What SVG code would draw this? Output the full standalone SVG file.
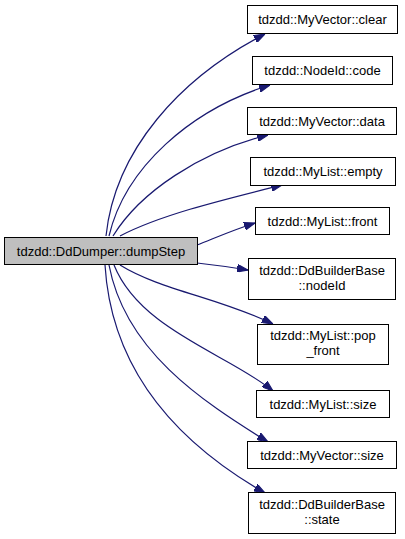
<svg xmlns="http://www.w3.org/2000/svg" width="405" height="539" viewBox="0 0 405 539">
<style>
.n rect{fill:#ffffff;stroke:#000000;stroke-width:1}
.m rect{fill:#bfbfbf;stroke:#000000;stroke-width:1}
text{font-family:"Liberation Sans",Arial,sans-serif;font-size:13px;fill:#000000;text-anchor:middle}
.e path{fill:none;stroke:#191970;stroke-width:1.2;marker-end:url(#arr)}
</style>
<defs>
<marker id="arr" viewBox="0 0 10 7" refX="10" refY="3.5" markerWidth="11" markerHeight="8" markerUnits="userSpaceOnUse" orient="auto">
<path d="M0,0 L10,3.5 L0,7 z" fill="#191970" stroke="#191970"/>
</marker>
</defs>
<rect width="405" height="539" fill="#ffffff"/>
<g id="edges" class="e">
<path d="M106,236 C115,150 180,78 265,34"/>
<path d="M109,236 C125,168 190,110 270,85"/>
<path d="M113,236 C140,192 200,152 268,135"/>
<path d="M120,236 C160,215 222,200 282,185"/>
<path d="M197,245 C215,238 233,230 255,223"/>
<path d="M197,263 C215,265 230,267 248,270"/>
<path d="M120,265 C160,290 220,298 273,324"/>
<path d="M114,265 C140,330 230,355 273,391"/>
<path d="M109,265 C125,350 200,400 268,442"/>
<path d="M105,265 C112,380 190,450 265,493"/>
</g>
<g id="dumpStep" class="m"><rect x="4.5" y="237.5" width="193" height="27"/><text x="101" y="255.5">tdzdd::DdDumper::dumpStep</text></g>
<g id="clear" class="n"><rect x="247.5" y="5.5" width="150" height="28"/><text x="322.5" y="24">tdzdd::MyVector::clear</text></g>
<g id="code" class="n"><rect x="252.5" y="56.5" width="140" height="28"/><text x="322.5" y="75">tdzdd::NodeId::code</text></g>
<g id="data" class="n"><rect x="247.5" y="107.5" width="149" height="27"/><text x="322" y="125.5">tdzdd::MyVector::data</text></g>
<g id="empty" class="n"><rect x="250.5" y="157.5" width="145" height="28"/><text x="323" y="176">tdzdd::MyList::empty</text></g>
<g id="front" class="n"><rect x="255.5" y="207.5" width="134" height="27"/><text x="322.5" y="225.5">tdzdd::MyList::front</text></g>
<g id="nodeId" class="n"><rect x="248.5" y="258.5" width="147" height="41"/><text x="322" y="275">tdzdd::DdBuilderBase</text><text x="322" y="290">::nodeId</text></g>
<g id="pop_front" class="n"><rect x="257.5" y="324.5" width="131" height="40"/><text x="323" y="340">tdzdd::MyList::pop</text><text x="323" y="355">_front</text></g>
<g id="listsize" class="n"><rect x="256.5" y="390.5" width="133" height="27"/><text x="323" y="408.5">tdzdd::MyList::size</text></g>
<g id="vecsize" class="n"><rect x="247.5" y="441.5" width="149" height="27"/><text x="322" y="459.5">tdzdd::MyVector::size</text></g>
<g id="state" class="n"><rect x="248.5" y="492.5" width="147" height="41"/><text x="322" y="509">tdzdd::DdBuilderBase</text><text x="322" y="524">::state</text></g>
</svg>
